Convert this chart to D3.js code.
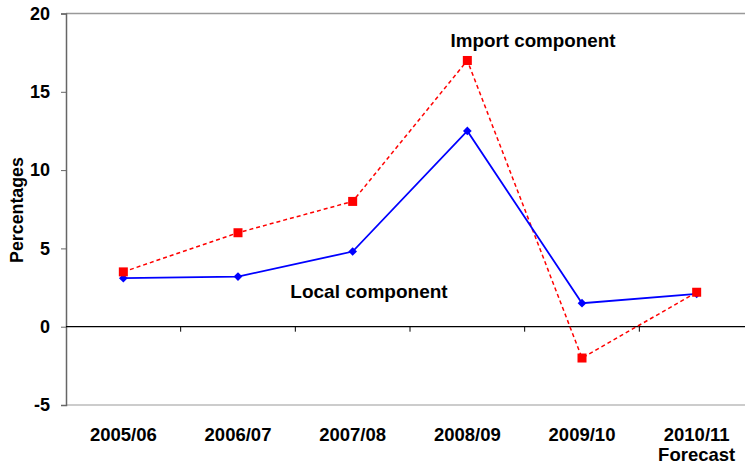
<!DOCTYPE html>
<html><head><meta charset="utf-8">
<script src="https://cdn.jsdelivr.net/npm/d3@7"></script>
<style>body{margin:0;background:#fff}svg{display:block}text{font-family:Arial,"Liberation Sans",sans-serif;font-weight:bold;fill:#000}</style>
</head><body>
<svg id="c" width="745" height="464"></svg>
<script>
const categories = ["2005/06","2006/07","2007/08","2008/09","2009/10","2010/11"];
const categorySub = ["","","","","","Forecast"];
const localValues = [3.1, 3.2, 4.8, 12.5, 1.5, 2.1];
const importValues = [3.5, 6.0, 8.0, 17.0, -2.0, 2.2];
const yTicks = [-5, 0, 5, 10, 15, 20];

const svg = d3.select("#c");
const L = 66, R = 754, T = 13.5, B = 405;
const x = d3.scaleBand().domain(categories).range([L, R]).padding(0);
const y = d3.scaleLinear().domain([-5, 20]).range([B, T]);
const cx = d => x(d) + x.bandwidth() / 2;

// frame: top & bottom gray lines
svg.append("line").attr("x1", L).attr("x2", 745).attr("y1", y(20)).attr("y2", y(20)).attr("stroke", "#999").attr("stroke-width", 1.5);
svg.append("line").attr("x1", L).attr("x2", 745).attr("y1", y(-5)).attr("y2", y(-5)).attr("stroke", "#bbb").attr("stroke-width", 1.5);

// y axis
const yAxis = svg.append("g").attr("transform", `translate(${L},0)`)
  .call(d3.axisLeft(y).tickValues(yTicks).tickSize(5).tickPadding(11).tickFormat(d => String(d)));
yAxis.select(".domain").attr("stroke", "#666").attr("stroke-width", 1.5);
yAxis.selectAll(".tick line").attr("stroke", "#666");
yAxis.selectAll("text").style("font-size", "18px").style("font-family", "Arial, 'Liberation Sans', sans-serif").style("font-weight", "bold").attr("fill", "#000");

// zero line with category tick marks
const zAxis = svg.append("g").attr("transform", `translate(0,${y(0)})`)
  .call(d3.axisBottom(x).tickSize(0).tickFormat(""));
zAxis.select(".domain").attr("stroke", "#000").attr("stroke-width", 1.2).attr("d", `M${L},0H745`);
zAxis.selectAll(".tick").remove();
const bounds = categories.slice(1).map(c => x(c));
zAxis.selectAll("line.bt").data(bounds).enter().append("line")
  .attr("x1", d => d).attr("x2", d => d).attr("y1", 0).attr("y2", 5).attr("stroke", "#000");

// category labels
const xl = svg.append("g");
xl.selectAll("text.cat").data(categories).enter().append("text")
  .attr("x", d => cx(d)).attr("y", 441).attr("text-anchor", "middle").style("font-size", "18.5px").text(d => d);
xl.selectAll("text.sub").data(categories.map((c, i) => ({c, s: categorySub[i]})).filter(d => d.s)).enter().append("text")
  .attr("x", d => cx(d.c)).attr("y", 461).attr("text-anchor", "middle").style("font-size", "18.5px").text(d => d.s);

// y axis title
svg.append("text").attr("transform", "translate(23,210) rotate(-90)").attr("text-anchor", "middle").style("font-size", "17.8px").text("Percentages");

// lines
const line = d3.line().x((d, i) => cx(categories[i])).y(d => y(d));
svg.append("path").datum(importValues).attr("d", line).attr("fill", "none").attr("stroke", "#ff0000").attr("stroke-width", 1.5).attr("stroke-dasharray", "4,3");
svg.append("path").datum(localValues).attr("d", line).attr("fill", "none").attr("stroke", "#0000ff").attr("stroke-width", 1.8);

// markers
svg.selectAll("path.dia").data(localValues).enter().append("path")
  .attr("d", d3.symbol().type(d3.symbolDiamond2).size(48))
  .attr("transform", (d, i) => `translate(${cx(categories[i])},${y(d)})`).attr("fill", "#0000ff");
svg.selectAll("rect.sq").data(importValues).enter().append("rect")
  .attr("x", (d, i) => cx(categories[i]) - 4.5).attr("y", d => y(d) - 4.5).attr("width", 9).attr("height", 9).attr("fill", "#ff0000");

// annotations
svg.append("text").attr("x", 533).attr("y", 47).attr("text-anchor", "middle").style("font-size", "18.8px").text("Import component");
svg.append("text").attr("x", 369).attr("y", 298).attr("text-anchor", "middle").style("font-size", "19px").text("Local component");
</script>
</body></html>
